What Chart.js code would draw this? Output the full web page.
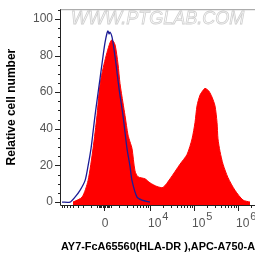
<!DOCTYPE html>
<html>
<head>
<meta charset="utf-8">
<script src="https://cdn.jsdelivr.net/npm/chart.js@4.4.1/dist/chart.umd.min.js"></script>
<style>
body { margin: 0; background: #fff; }
#wrap { width: 255px; height: 260px; }
</style>
</head>
<body>
<div id="wrap"><canvas id="histChart"></canvas></div>
<script>
// eixo x em unidades de exibição (logicle): 10^4 = 4, 10^5 = 5, 10^6 = 6
const zeroPos = 2.955;
const xTickValues = [zeroPos, 4, 5, 6];
const xTickBase = ['0', '10', '10', '10'];
const xTickExp = ['', '4', '5', '6'];
const yTickValues = [0, 20, 40, 60, 80, 100];

// amostra (histograma vermelho)
const sampleX = [2.25, 2.455, 2.591, 2.705, 2.795, 2.841, 2.886, 2.955, 3.023, 3.091, 3.136, 3.205, 3.273, 3.318,
    3.386, 3.432, 3.5, 3.545, 3.591, 3.659, 3.727, 3.886, 4.0, 4.159, 4.295, 4.455, 4.682, 4.841, 4.955, 5.023,
    5.068, 5.136, 5.205, 5.25, 5.295, 5.341, 5.409, 5.477, 5.523, 5.545, 5.591, 5.659, 5.773, 5.932, 6.114, 6.273];
const sampleY = [0, 2.7, 11.7, 29.2, 47.2, 59.4, 67.4, 75.3, 81.7, 87.0, 88.6, 85.9, 75.3, 64.7,
    54.1, 47.2, 36.6, 32.9, 29.2, 17.0, 13.8, 12.7, 10.5, 8.5, 8.0, 12.7, 20.7, 26.0, 34.5, 43.5,
    52.5, 58.4, 61.0, 62.1, 61.5, 60.5, 57.3, 52.5, 43.5, 34.5, 27.6, 20.7, 13.3, 6.4, 1.1, 0];

// controle (linha azul)
const controlX = [2.0, 2.182, 2.295, 2.409, 2.523, 2.591, 2.659, 2.705, 2.75, 2.818, 2.864, 2.932, 2.977, 3.023,
    3.045, 3.068, 3.091, 3.136, 3.182, 3.227, 3.295, 3.386, 3.477, 3.545, 3.591, 3.705, 3.818, 4.0];
const controlY = [0, 0, 2.7, 6.4, 11.7, 19.6, 29.2, 38.2, 47.2, 59.4, 67.4, 79.6, 87.0, 92.3,
    93.4, 91.8, 92.8, 90.2, 83.3, 75.3, 62.1, 47.2, 29.2, 19.6, 11.7, 2.7, 1.1, 0];

const toPoints = (xs, ys) => xs.map((x, i) => ({ x: x, y: ys[i] }));

const fontFamily = '"Liberation Sans", Arial, sans-serif';

// marcas menores do eixo x (décadas logarítmicas + região linear perto de zero)
function xMinorTicks() {
    const out = [];
    for (let k = 2; k <= 9; k++) {
        out.push(zeroPos - Math.log10(k));
        out.push(3 + Math.log10(k));
        out.push(4 + Math.log10(k));
        out.push(5 + Math.log10(k));
        out.push(6 + Math.log10(k));
    }
    for (let i = 1; i <= 5; i++) {
        out.push(zeroPos - 0.03 * i);
        out.push(zeroPos + 0.03 * i);
    }
    return out;
}

const frameAndTicks = {
    id: 'frameAndTicks',
    beforeDatasetsDraw(chart) {
        const ctx = chart.ctx;
        const a = chart.chartArea;
        ctx.save();
        ctx.font = 'italic 18px ' + fontFamily;
        ctx.textBaseline = 'middle';
        ctx.strokeStyle = '#cfcfcf';
        ctx.lineWidth = 0.8;
        ctx.strokeText('WWW.PTGLAB.COM', a.left + 10, a.top + 10, a.right - a.left - 12);
        ctx.restore();
    },
    afterDraw(chart) {
        const ctx = chart.ctx;
        const a = chart.chartArea;
        const xs = chart.scales.x;
        const ys = chart.scales.y;
        ctx.save();
        ctx.lineWidth = 1;
        // moldura
        ctx.strokeStyle = '#999';
        ctx.beginPath();
        ctx.moveTo(a.left, a.top + 0.5);
        ctx.lineTo(a.right, a.top + 0.5);
        ctx.stroke();
        ctx.strokeStyle = '#222';
        ctx.beginPath();
        ctx.moveTo(a.left - 0.5, a.top);
        ctx.lineTo(a.left - 0.5, a.bottom + 0.5);
        ctx.lineTo(a.right, a.bottom + 0.5);
        ctx.stroke();
        // marcas do eixo y
        ctx.beginPath();
        for (let v = 0; v <= 105; v += 5) {
            const py = Math.round(ys.getPixelForValue(v)) + 0.5;
            const len = v % 20 === 0 ? 6 : 3;
            ctx.moveTo(a.left - len, py);
            ctx.lineTo(a.left, py);
        }
        // marcas do eixo x
        xTickValues.forEach(v => {
            const px = Math.round(xs.getPixelForValue(v)) + 0.5;
            ctx.moveTo(px, a.bottom);
            ctx.lineTo(px, a.bottom + 6);
        });
        xMinorTicks().forEach(v => {
            if (v < xs.min || v > xs.max) return;
            const px = Math.round(xs.getPixelForValue(v)) + 0.5;
            ctx.moveTo(px, a.bottom);
            ctx.lineTo(px, a.bottom + 3);
        });
        ctx.stroke();
        // rótulos do eixo x com expoente
        ctx.fillStyle = '#555';
        ctx.textBaseline = 'alphabetic';
        xTickValues.forEach((v, i) => {
            const px = xs.getPixelForValue(v);
            ctx.font = '12px ' + fontFamily;
            if (!xTickExp[i]) {
                ctx.textAlign = 'center';
                ctx.fillText(xTickBase[i], px + 1, a.bottom + 22);
                return;
            }
            ctx.textAlign = 'left';
            const left = px - 2;
            ctx.fillText(xTickBase[i], left, a.bottom + 22);
            const w = ctx.measureText(xTickBase[i]).width;
            ctx.font = '11px ' + fontFamily;
            ctx.fillText(xTickExp[i], left + w + 1, a.bottom + 15);
        });
        ctx.restore();
    }
};

new Chart(document.getElementById('histChart').getContext('2d'), {
    type: 'line',
    data: {
        datasets: [{
            label: 'Controle',
            data: toPoints(controlX, controlY),
            borderColor: '#1c1c96',
            borderWidth: 1.3,
            pointRadius: 0,
            tension: 0.25,
            fill: false,
            order: 0
        }, {
            label: 'Amostra',
            data: toPoints(sampleX, sampleY),
            borderColor: '#ff0000',
            backgroundColor: '#ff0000',
            borderWidth: 1,
            pointRadius: 0,
            tension: 0.25,
            fill: 'start',
            order: 1
        }]
    },
    options: {
        responsive: true,
        maintainAspectRatio: false,
        animation: false,
        layout: { padding: { top: 4, right: 0, left: 0, bottom: 0 } },
        plugins: {
            legend: { display: false },
            tooltip: { enabled: false }
        },
        scales: {
            x: {
                type: 'linear',
                min: 1.977,
                max: 6.386,
                afterBuildTicks: s => { s.ticks = xTickValues.map(v => ({ value: v })); },
                afterFit: s => { s.height = 55; },
                grid: { display: false, drawTicks: false },
                border: { display: false },
                ticks: { display: false },
                title: {
                    display: true,
                    text: 'AY7-FcA65560(HLA-DR ),APC-A750-A',
                    align: 'start',
                    color: '#000',
                    font: { family: fontFamily, size: 11.6, weight: 'bold' },
                    padding: { top: 0, bottom: 6 }
                }
            },
            y: {
                min: -1.6,
                max: 105.3,
                afterBuildTicks: s => { s.ticks = yTickValues.map(v => ({ value: v })); },
                afterFit: s => { s.width = 61; },
                grid: { display: false, drawTicks: true, tickLength: 6 },
                border: { display: false },
                ticks: {
                    padding: 2,
                    color: '#555',
                    font: { family: fontFamily, size: 12 }
                },
                title: {
                    display: true,
                    text: 'Relative cell number',
                    color: '#000',
                    font: { family: fontFamily, size: 12, weight: 'bold' },
                    padding: { top: 4, bottom: 0 }
                }
            }
        }
    },
    plugins: [frameAndTicks]
});
</script>
</body>
</html>
